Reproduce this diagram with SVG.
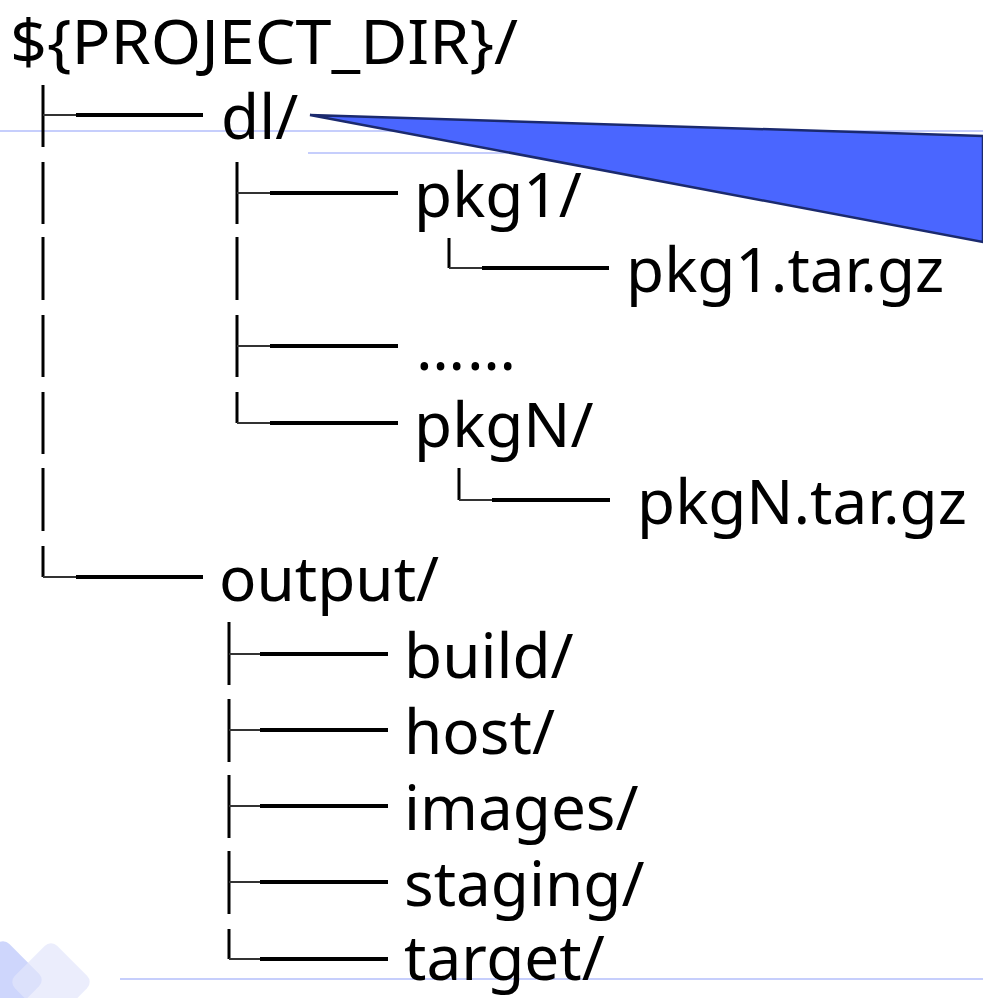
<svg xmlns="http://www.w3.org/2000/svg" width="983" height="998" viewBox="0 0 983 998">
  <style>
    .label { font-family: "Noto Sans", "Open Sans", sans-serif; font-size: 62px; fill: #000; }
    .stem { stroke: #000; stroke-width: 3; fill: none; }
    .tick { stroke: #333; stroke-width: 2; fill: none; }
    .branch { stroke: #000; stroke-width: 4; fill: none; }
    .rule { stroke: #c6cefc; stroke-width: 2; }
  </style>
  <rect width="983" height="998" fill="#fff"/>

  <!-- background decoration -->
  <g id="decor">
    <line class="rule" x1="0" y1="131" x2="983" y2="131"/>
    <line class="rule" x1="308" y1="153" x2="983" y2="153"/>
    <line class="rule" x1="120" y1="979" x2="983" y2="979"/>
    <rect x="-27" y="950" width="60" height="60" rx="9" transform="rotate(45 3 980)" fill="#c9d2fc" opacity="0.9"/>
    <rect x="21" y="952" width="60" height="60" rx="9" transform="rotate(45 51 982)" fill="#e3e6fb" opacity="0.7"/>
  </g>

  <!-- callout wedge -->
  <polygon id="wedge" points="310,115 983,136 983,242" fill="#4a66ff" stroke="#1b2a6e" stroke-width="2.5" stroke-linejoin="miter"/>

  <!-- tree connectors -->
  <g id="connectors">
    <!-- root column -->
    <line class="stem" x1="43" y1="85" x2="43" y2="147"/>
    <line class="stem" x1="43" y1="162" x2="43" y2="224"/>
    <line class="stem" x1="43" y1="237" x2="43" y2="300"/>
    <line class="stem" x1="43" y1="315" x2="43" y2="377"/>
    <line class="stem" x1="43" y1="392" x2="43" y2="454"/>
    <line class="stem" x1="43" y1="468" x2="43" y2="531"/>
    <line class="stem" x1="43" y1="546" x2="43" y2="577"/>
    <line class="tick" x1="43" y1="115" x2="76" y2="115"/>
    <line class="branch" x1="76" y1="115" x2="203" y2="115"/>
    <line class="tick" x1="43" y1="577" x2="76" y2="577"/>
    <line class="branch" x1="76" y1="577" x2="203" y2="577"/>

    <!-- dl/ column -->
    <line class="stem" x1="237" y1="162" x2="237" y2="224"/>
    <line class="stem" x1="237" y1="237" x2="237" y2="300"/>
    <line class="stem" x1="237" y1="315" x2="237" y2="377"/>
    <line class="stem" x1="237" y1="392" x2="237" y2="423"/>
    <line class="tick" x1="237" y1="193" x2="270" y2="193"/>
    <line class="branch" x1="270" y1="193" x2="398" y2="193"/>
    <line class="tick" x1="237" y1="346" x2="270" y2="346"/>
    <line class="branch" x1="270" y1="346" x2="398" y2="346"/>
    <line class="tick" x1="237" y1="423" x2="270" y2="423"/>
    <line class="branch" x1="270" y1="423" x2="398" y2="423"/>

    <!-- pkg1/ child -->
    <line class="stem" x1="449" y1="238" x2="449" y2="268"/>
    <line class="tick" x1="449" y1="268" x2="482" y2="268"/>
    <line class="branch" x1="482" y1="268" x2="609" y2="268"/>

    <!-- pkgN/ child -->
    <line class="stem" x1="459" y1="468" x2="459" y2="500"/>
    <line class="tick" x1="459" y1="500" x2="492" y2="500"/>
    <line class="branch" x1="492" y1="500" x2="610" y2="500"/>

    <!-- output/ column -->
    <line class="stem" x1="229" y1="622" x2="229" y2="685"/>
    <line class="stem" x1="229" y1="699" x2="229" y2="762"/>
    <line class="stem" x1="229" y1="775" x2="229" y2="838"/>
    <line class="stem" x1="229" y1="851" x2="229" y2="914"/>
    <line class="stem" x1="229" y1="929" x2="229" y2="959"/>
    <line class="tick" x1="229" y1="654" x2="260" y2="654"/>
    <line class="branch" x1="260" y1="654" x2="388" y2="654"/>
    <line class="tick" x1="229" y1="730" x2="260" y2="730"/>
    <line class="branch" x1="260" y1="730" x2="388" y2="730"/>
    <line class="tick" x1="229" y1="806" x2="260" y2="806"/>
    <line class="branch" x1="260" y1="806" x2="388" y2="806"/>
    <line class="tick" x1="229" y1="882" x2="260" y2="882"/>
    <line class="branch" x1="260" y1="882" x2="388" y2="882"/>
    <line class="tick" x1="229" y1="959" x2="260" y2="959"/>
    <line class="branch" x1="260" y1="959" x2="388" y2="959"/>
  </g>

  <!-- tree entries -->
  <g id="root"><text class="label" x="10" y="64" textLength="508" lengthAdjust="spacingAndGlyphs">${PROJECT_DIR}/</text></g>
  <g id="dl"><text class="label" x="221" y="139">dl/</text></g>
  <g id="pkg1"><text class="label" x="414" y="217">pkg1/</text></g>
  <g id="pkg1-tar"><text class="label" x="626" y="292">pkg1.tar.gz</text></g>
  <g id="more"><text class="label" x="416" y="370" letter-spacing="2">……</text></g>
  <g id="pkgN"><text class="label" x="414" y="447">pkgN/</text></g>
  <g id="pkgN-tar"><text class="label" x="637" y="524">pkgN.tar.gz</text></g>
  <g id="output"><text class="label" x="219" y="601">output/</text></g>
  <g id="build"><text class="label" x="404" y="678">build/</text></g>
  <g id="host"><text class="label" x="404" y="754">host/</text></g>
  <g id="images"><text class="label" x="404" y="830">images/</text></g>
  <g id="staging"><text class="label" x="404" y="906">staging/</text></g>
  <g id="target"><text class="label" x="404" y="980">target/</text></g>
</svg>
